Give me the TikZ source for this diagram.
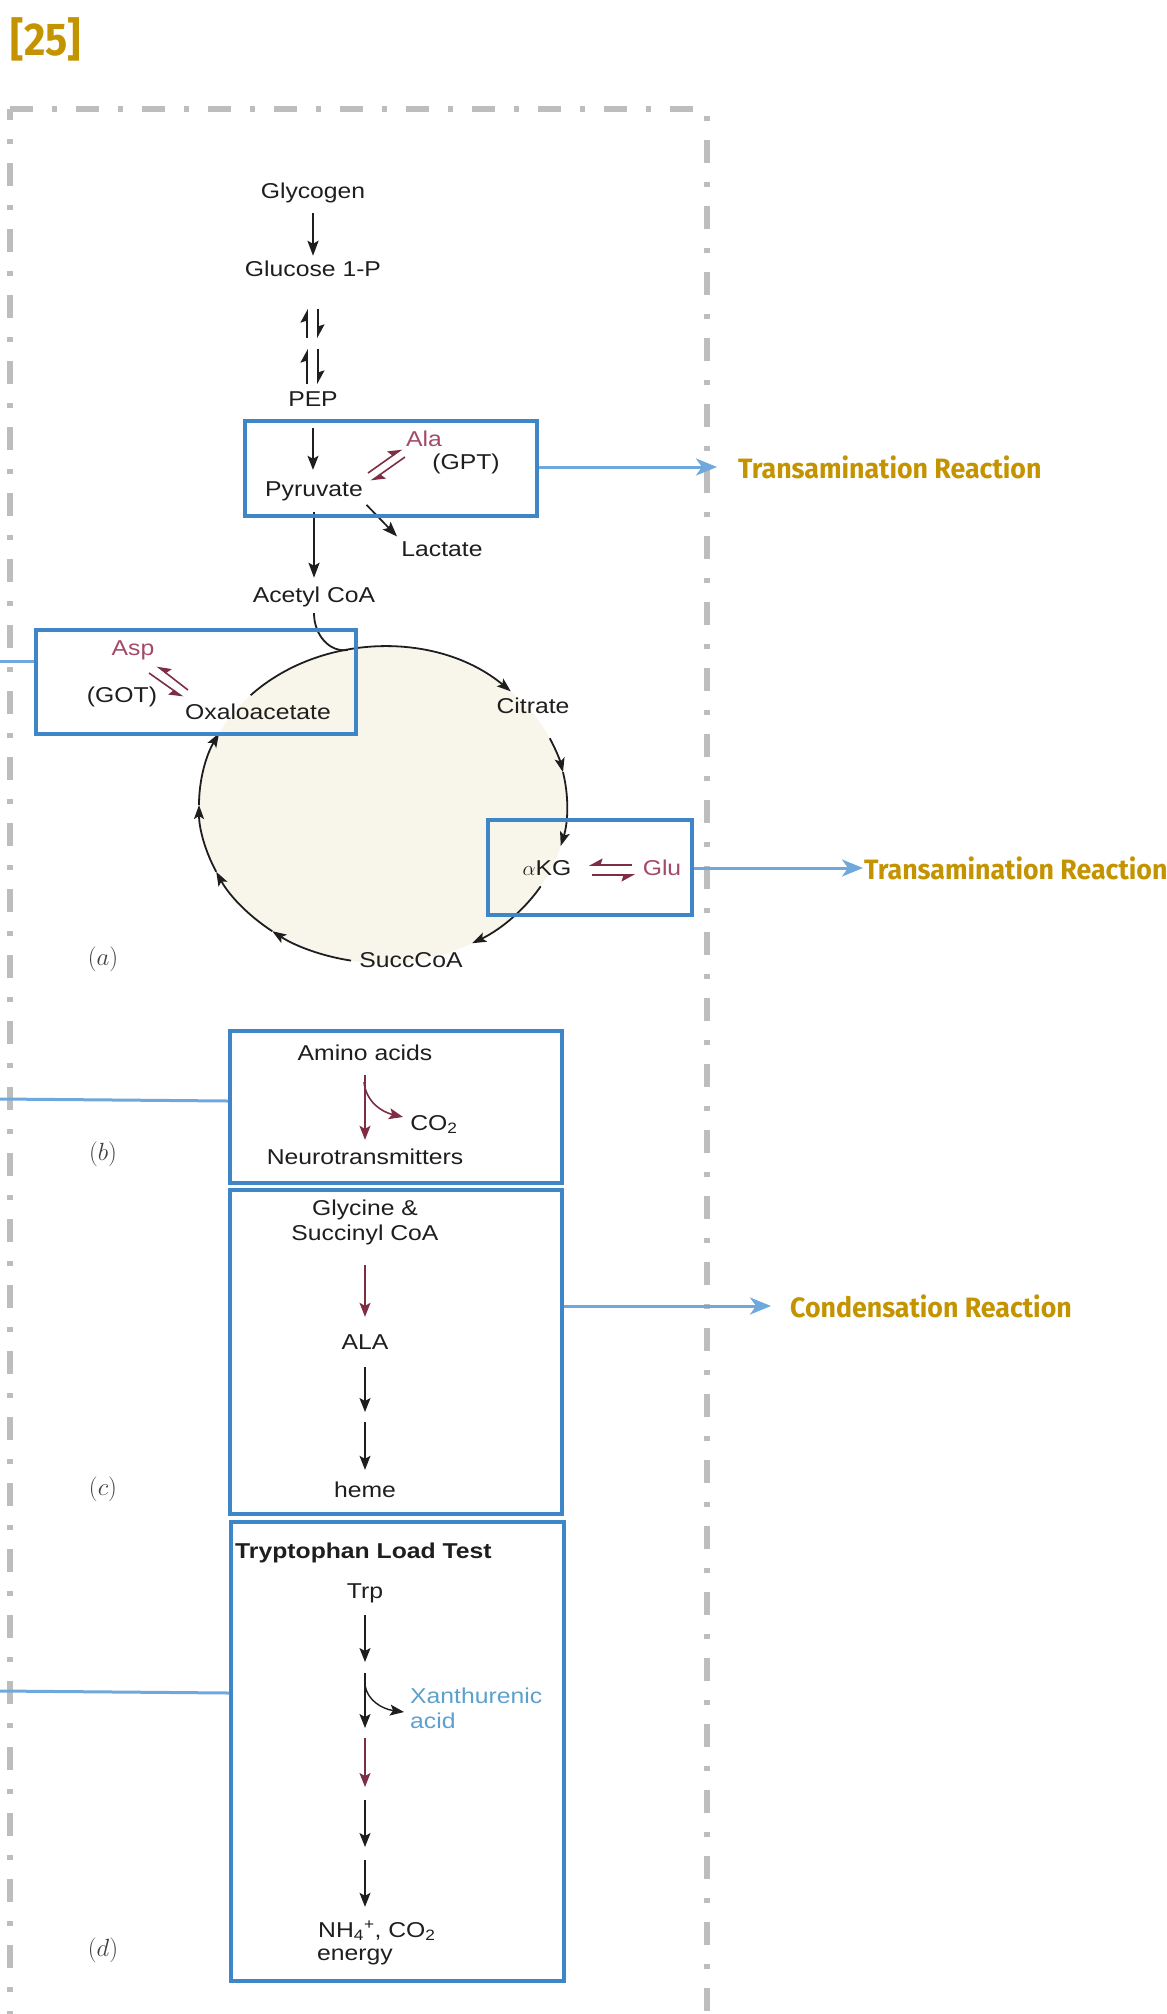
\documentclass[tikz,border=0pt]{standalone}
\usepackage{fontspec}
\usetikzlibrary{arrows.meta,calc}
\newfontfamily\figfont[FakeStretch=1.15]{Liberation Sans}
\newfontfamily\labfont[FakeStretch=0.955]{Fira Sans}
\newfontfamily\numfont[FakeStretch=0.9]{Fira Sans}
\definecolor{gold}{HTML}{C49300}
\definecolor{boxblue}{HTML}{3F86C8}
\definecolor{linkblue}{HTML}{6FA8DC}
\definecolor{framegray}{HTML}{BDBDBD}
\definecolor{redink}{HTML}{7D2E45}
\definecolor{redtext}{HTML}{A24A66}
\definecolor{xblue}{HTML}{5DA0CC}
\definecolor{ink}{HTML}{1E1E1E}
\definecolor{cream}{HTML}{F8F5EA}
\begin{document}
\begin{tikzpicture}[x=1pt,y=-1pt,
  txt/.style={font=\figfont\fontsize{21.5pt}{25pt}\selectfont, text=ink, inner sep=0pt, text height=15.5pt, text depth=4.5pt},
  rtxt/.style={txt, text=redtext},
  btxt/.style={txt, text=xblue, anchor=west},
  sublbl/.style={font=\fontsize{25pt}{27pt}\selectfont, text=ink!85, inner sep=0pt},
  box/.style={draw=boxblue, line width=3.8pt, inner sep=0pt, rectangle},
  link/.style={draw=linkblue, line width=3pt, -{Stealth[length=21pt,width=17pt,inset=6pt]}},
  plainlink/.style={draw=linkblue, line width=3pt},
  tag/.style={font=\labfont\bfseries\fontsize{28pt}{30pt}\selectfont, text=gold, inner sep=0pt, anchor=west},
  frame/.style={draw=framegray, line width=5.5pt, dash pattern=on 23pt off 19pt on 5pt off 19pt},
  arr/.style={draw=ink, line width=2.3pt, -{Stealth[length=15pt,width=11pt,inset=3pt]}},
  tarr/.style={draw=ink, line width=1.4pt, -{Stealth[length=14pt,width=11pt,inset=3pt]}},
  rarr/.style={draw=redink, line width=1.6pt, -{Stealth[length=14pt,width=11pt,inset=3pt]}},
  harp/.style={draw=ink, line width=1.7pt, -{Stealth[harpoon,length=12pt,width=13pt,inset=2pt]}},
  rharp/.style={draw=redink, line width=1.6pt, -{Stealth[harpoon,length=12pt,width=13pt,inset=2pt]}},
  rharps/.style={draw=redink, line width=1.6pt, -{Stealth[harpoon,swap,length=12pt,width=13pt,inset=2pt]}},
  cyc/.style={draw=ink, line width=1.8pt},
  cycarr/.style={cyc, -{Stealth[length=14pt,width=10pt,inset=3pt]}},
  ell/.style={x radius=184pt, y radius=158pt},
]
\useasboundingbox (0,0) rectangle (1167,2014);

% title
\node[font=\numfont\bfseries\fontsize{46pt}{48pt}\selectfont, text=gold, inner sep=0pt] (num) at (46,39) {[25]};

% dash-dot frame
\draw[frame] (10,109) -- (707,109);
\draw[frame, dash phase=12pt] (10,109) -- (10,2030);
\draw[frame, dash phase=35pt] (707,109) -- (707,2030);

% TCA cycle
\coordinate (C) at (383,805);
\fill[cream] (C) ellipse[x radius=184pt, y radius=158pt];
\coordinate (eA) at ($(C)+(136:184pt and 158pt)$);
\coordinate (eB) at ($(C)+(101:184pt and 158pt)$);
\coordinate (eC) at ($(C)+(25:184pt and 158pt)$);
\coordinate (eD) at ($(C)+(12:184pt and 158pt)$);
\coordinate (eE) at ($(C)+(-31:184pt and 158pt)$);
\coordinate (eF) at ($(C)+(-100:184pt and 158pt)$);
\coordinate (eG) at ($(C)+(-127:184pt and 158pt)$);
\coordinate (eH) at ($(C)+(-155:184pt and 158pt)$);
\coordinate (eI) at ($(C)+(-180:184pt and 158pt)$);
\draw[cycarr] (eA) arc[start angle=136, end angle=46, ell];
\draw[cycarr] (eC) arc[start angle=25, end angle=12, ell];
\draw[cycarr] (eD) arc[start angle=12, end angle=-15, ell];
\draw[cycarr] (eE) arc[start angle=-31, end angle=-61, ell];
\draw[cycarr] (eF) arc[start angle=-100, end angle=-127, ell];
\draw[cycarr] (eG) arc[start angle=-127, end angle=-155, ell];
\draw[cycarr] (eH) arc[start angle=-155, end angle=-180, ell];
\draw[cycarr] (eI) arc[start angle=-180, end angle=-207, ell];

% texts
\node[txt] (glycogen) at (313,193) {Glycogen};
\node[txt] (glucose) at (313,271) {Glucose 1-P};
\node[txt] (pep) at (313,401) {PEP};
\node[txt] (pyruvate) at (314,491) {Pyruvate};
\node[rtxt] (ala) at (424,441) {Ala};
\node[txt] (gpt) at (466,464) {(GPT)};
\node[txt] (lactate) at (442,551) {Lactate};
\node[txt] (acetyl) at (314,597) {Acetyl CoA};
\node[rtxt] (asp) at (133,650) {Asp};
\node[txt] (got) at (122,697) {(GOT)};
\node[txt] (oxalo) at (258,714) {Oxaloacetate};
\node[txt] (citrate) at (533,708) {Citrate};
\node[txt] (akg) at (547,870) {$\alpha$KG};
\node[rtxt] (glu) at (662,870) {Glu};
\node[txt] (succcoa) at (411,962) {SuccCoA};
\node[sublbl] (la) at (103,959) {$(a)$};
\node[txt] (amino) at (365,1055) {Amino acids};
\node[txt] (co2a) at (434,1125) {CO\textsubscript{2}};
\node[txt] (neuro) at (365,1159) {Neurotransmitters};
\node[sublbl] (lb) at (103,1154) {$(b)$};
\node[txt] (gly) at (365,1210) {Glycine \&};
\node[txt] (succinyl) at (365,1235) {Succinyl CoA};
\node[txt] (alaa) at (365,1344) {ALA};
\node[txt] (heme) at (365,1492) {heme};
\node[sublbl] (lc) at (103,1489) {$(c)$};
\node[txt, anchor=west, font=\figfont\bfseries\fontsize{21.5pt}{25pt}\selectfont] (tlt) at (235,1553) {Tryptophan Load Test};
\node[txt] (trp) at (365,1593) {Trp};
\node[btxt] (xan) at (410,1698) {Xanthurenic};
\node[btxt] (acid) at (410,1723) {acid};
\node[txt, anchor=west] (nh) at (318,1932) {NH\textsubscript{4}\textsuperscript{+}, CO\textsubscript{2}};
\node[txt, anchor=west] (energy) at (317,1955) {energy};
\node[sublbl] (ld) at (103,1950) {$(d)$};

% pathway arrows
\draw[arr, shorten <=10pt, shorten >=5pt] (glycogen) -- (glucose);
\coordinate (hA1) at (307,338); \coordinate (hA2) at (307,309);
\coordinate (hB1) at (318,309); \coordinate (hB2) at (318,338);
\coordinate (hC1) at (307,384); \coordinate (hC2) at (307,349);
\coordinate (hD1) at (318,349); \coordinate (hD2) at (318,384);
\draw[harp] (hA1) -- (hA2);
\draw[harp] (hB1) -- (hB2);
\draw[harp] (hC1) -- (hC2);
\draw[harp] (hD1) -- (hD2);
\draw[tarr, shorten <=17pt, shorten >=11pt] (pep.south) -- (pep.south |- pyruvate.north);
\draw[arr, shorten <=11pt, shorten >=9pt] (pyruvate) -- (acetyl);
\draw[arr, line width=1.7pt, shorten <=5pt, shorten >=6pt] (pyruvate.south east) -- (lactate.north west);
\coordinate (pa1) at (368,473); \coordinate (pa2) at (402,449);
\coordinate (pa3) at (405,457); \coordinate (pa4) at (371,481);
\draw[rharp] (pa1) -- (pa2);
\draw[rharp] (pa3) -- (pa4);
\coordinate (ga1) at (188,690); \coordinate (ga2) at (157,666);
\coordinate (ga3) at (149,673); \coordinate (ga4) at (183,697);
\draw[rharps] (ga1) -- (ga2);
\draw[rharps] (ga3) -- (ga4);
\coordinate (ka1) at (632,865); \coordinate (ka2) at (589,865);
\coordinate (ka3) at (592,875); \coordinate (ka4) at (635,875);
\draw[rharps] (ka1) -- (ka2);
\draw[rharps] (ka3) -- (ka4);
\draw[cyc] ([yshift=-6pt]acetyl.south) .. controls +(0,22) and +(-18,3) .. (eB);

% (b)
\draw[rarr, shorten <=10pt, shorten >=9pt] (amino) -- (neuro);
\coordinate (bs) at (364,1082); \coordinate (be) at (403,1117);
\draw[rarr] (bs) .. controls (366,1102) and (382,1112) .. (be);

% (c)
\draw[rarr, shorten <=20pt, shorten >=17pt] (succinyl) -- (alaa);
\coordinate (c1) at (365,1412); \coordinate (c2) at (365,1422);
\draw[tarr, shorten <=13pt] (alaa) -- (c1);
\draw[tarr, shorten >=12pt] (c2) -- (heme);

% (d)
\coordinate (d1) at (365,1662); \coordinate (d2) at (365,1673);
\coordinate (d3) at (365,1728); \coordinate (d4) at (365,1738);
\coordinate (d5) at (365,1787); \coordinate (d6) at (365,1800);
\coordinate (d7) at (365,1847); \coordinate (d8) at (365,1860);
\coordinate (xs) at (365,1685); \coordinate (xe) at (404,1712);
\draw[tarr, shorten <=12pt] (trp) -- (d1);
\draw[tarr] (d2) -- (d3);
\draw[tarr] (xs) .. controls (367,1700) and (382,1709) .. (xe);
\draw[rarr] (d4) -- (d5);
\draw[tarr] (d6) -- (d7);
\draw[tarr, shorten >=15pt] (d8) -- (d8 |- nh.north);

% blue boxes
\node[box, minimum width=292pt, minimum height=95pt] (b1) at (391,468.5) {};
\node[box, minimum width=320pt, minimum height=104pt] (b2) at (196,682) {};
\node[box, minimum width=204pt, minimum height=95pt] (b3) at (590,867.5) {};
\node[box, minimum width=332pt, minimum height=152pt] (b4) at (396,1107) {};
\node[box, minimum width=332pt, minimum height=324pt] (b5) at (396,1352) {};
\node[box, minimum width=333pt, minimum height=459pt] (b6) at (397.5,1751.5) {};

% connectors and tags
\coordinate (l1) at (717,467);
\coordinate (l2) at (0,661);
\coordinate (l3) at (863,868);
\coordinate (l4) at (0,1099);
\coordinate (l5) at (771,1306);
\coordinate (l6) at (0,1691);
\draw[link] (b1.east |- l1) -- (l1);
\draw[plainlink] (b2.west |- l2) -- (l2);
\draw[link] (b3.east |- l3) -- (l3);
\draw[plainlink] (b4.west |- 0,1101) -- (l4);
\draw[link] (b5.east |- l5) -- (l5);
\draw[plainlink] (b6.west |- 0,1693) -- (l6);
\node[tag] (t1) at (738,467) {Transamination Reaction};
\node[tag] (t2) at (864,868) {Transamination Reaction};
\node[tag] (t3) at (790,1306) {Condensation Reaction};
\end{tikzpicture}
\end{document}
